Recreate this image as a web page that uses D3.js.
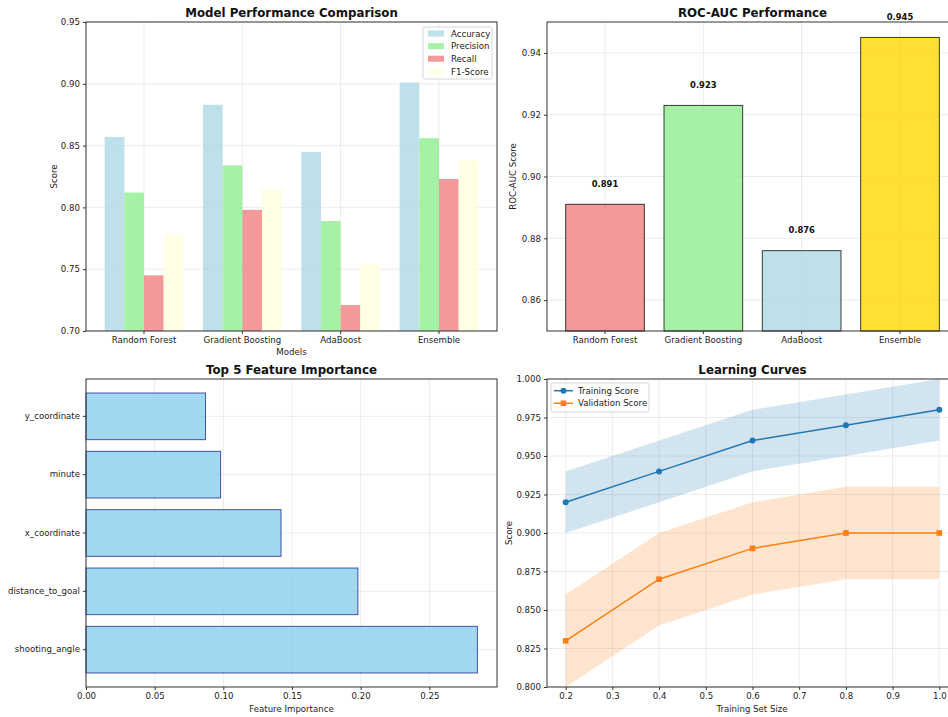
<!DOCTYPE html>
<html>
<head>
<meta charset="utf-8">
<script src="https://cdn.jsdelivr.net/npm/d3@7"></script>
<style>
  body { margin: 0; background: #fff; }
  svg { display: block; font-family: "DejaVu Sans", sans-serif; }
  svg text { font-family: "DejaVu Sans", sans-serif; }
  .tick text { font-size: 8.6px; fill: #222; font-family: "DejaVu Sans", sans-serif; }
  .tick line { stroke: #333; }
  .domain { display: none; }
</style>
</head>
<body>
<svg id="fig" width="948" height="717"></svg>
<script>
// ---- data ----
const models = ["Random Forest", "Gradient Boosting", "AdaBoost", "Ensemble"];
const metrics = ["Accuracy", "Precision", "Recall", "F1-Score"];
const accuracy = [0.857, 0.883, 0.845, 0.901];
const precision = [0.812, 0.834, 0.789, 0.856];
const recall = [0.745, 0.798, 0.721, 0.823];
const f1Score = [0.778, 0.815, 0.754, 0.838];
const metricColors = ["lightblue", "lightgreen", "lightcoral", "lightyellow"];

const rocAuc = [0.891, 0.923, 0.876, 0.945];
const rocColors = ["lightcoral", "lightgreen", "lightblue", "gold"];

const features = ["shooting_angle", "distance_to_goal", "x_coordinate", "minute", "y_coordinate"];
const importance = [0.285, 0.198, 0.142, 0.098, 0.087];

const trainSizes = [0.2, 0.4, 0.6, 0.8, 1.0];
const trainMean = [0.92, 0.94, 0.96, 0.97, 0.98];
const trainStd = [0.02, 0.02, 0.02, 0.02, 0.02];
const valMean = [0.83, 0.87, 0.89, 0.90, 0.90];
const valStd = [0.03, 0.03, 0.03, 0.03, 0.03];

const scoreTicks = [0.70, 0.75, 0.80, 0.85, 0.90, 0.95];
const rocTicks = [0.86, 0.88, 0.90, 0.92, 0.94];
const impTicks = [0.00, 0.05, 0.10, 0.15, 0.20, 0.25];
const sizeTicks = [0.2, 0.3, 0.4, 0.5, 0.6, 0.7, 0.8, 0.9, 1.0];
const lcTicks = [0.800, 0.825, 0.850, 0.875, 0.900, 0.925, 0.950, 0.975, 1.000];

const svg = d3.select("#fig");
const LABEL_SIZE = "8.6px";

// panel boxes
const P = {
  tl: {l: 86, r: 497, t: 22, b: 331},
  tr: {l: 547, r: 958, t: 22, b: 331},
  bl: {l: 86, r: 497, t: 379, b: 687},
  br: {l: 547, r: 958, t: 379, b: 687}
};

function gridX(g, scale, vals, p) {
  g.append("g").selectAll("line").data(vals).join("line")
    .attr("x1", d => scale(d)).attr("x2", d => scale(d))
    .attr("y1", p.t).attr("y2", p.b)
    .attr("stroke", "#b0b0b0").attr("stroke-opacity", 0.3).attr("stroke-width", 0.8);
}
function gridY(g, scale, vals, p) {
  g.append("g").selectAll("line").data(vals).join("line")
    .attr("y1", d => scale(d)).attr("y2", d => scale(d))
    .attr("x1", p.l).attr("x2", p.r)
    .attr("stroke", "#b0b0b0").attr("stroke-opacity", 0.3).attr("stroke-width", 0.8);
}
function frame(g, p) {
  g.append("rect").attr("x", p.l).attr("y", p.t)
    .attr("width", p.r - p.l).attr("height", p.b - p.t)
    .attr("fill", "none").attr("stroke", "#333").attr("stroke-width", 1);
}
function title(g, p, text, y) {
  g.append("text").attr("x", (p.l + p.r) / 2).attr("y", y)
    .attr("text-anchor", "middle").attr("font-size", "11.8px").attr("font-weight", "bold")
    .attr("fill", "#111").text(text);
}
function xLabel(g, x, y, text) {
  g.append("text").attr("x", x).attr("y", y).attr("text-anchor", "middle")
    .attr("font-size", LABEL_SIZE).attr("fill", "#222").text(text);
}
function yLabel(g, x, y, text) {
  g.append("text").attr("transform", `translate(${x},${y}) rotate(-90)`)
    .attr("text-anchor", "middle").attr("font-size", LABEL_SIZE).attr("fill", "#222").text(text);
}
function styleAxis(a) {
  a.attr("font-family", null).attr("font-size", null);
  a.selectAll(".tick line").attr("stroke", "#333");
}

// ---------- Top-left: grouped bars ----------
{
  const p = P.tl;
  const g = svg.append("g");
  const x = d3.scaleBand().domain(models).range([p.l, p.r]).paddingInner(0.2).paddingOuter(0.19);
  const sub = d3.scaleBand().domain(metrics).range([0, x.bandwidth()]);
  const y = d3.scaleLinear().domain([0.70, 0.95]).range([p.b, p.t]);
  const series = [accuracy, precision, recall, f1Score];

  gridX(g, m => x(m) + x.bandwidth() / 2, models, p);
  gridY(g, y, scoreTicks, p);

  const bars = g.append("g");
  metrics.forEach((met, k) => {
    bars.append("g").selectAll("rect").data(models).join("rect")
      .attr("x", m => x(m) + sub(met))
      .attr("width", sub.bandwidth())
      .attr("y", (m, i) => y(series[k][i]))
      .attr("height", (m, i) => y(0.70) - y(series[k][i]))
      .attr("fill", metricColors[k]).attr("fill-opacity", 0.8);
  });

  frame(g, p);
  g.append("g").attr("transform", `translate(0,${p.b})`)
    .call(d3.axisBottom(x).tickSize(3).tickPadding(3)).call(styleAxis);
  g.append("g").attr("transform", `translate(${p.l},0)`)
    .call(d3.axisLeft(y).tickValues(scoreTicks).tickFormat(d3.format(".2f")).tickSize(3).tickPadding(3)).call(styleAxis);

  title(g, p, "Model Performance Comparison", 17);
  xLabel(g, (p.l + p.r) / 2, 355, "Models");
  yLabel(g, 57, (p.t + p.b) / 2, "Score");

  // legend
  const lg = g.append("g").attr("transform", "translate(423,27)");
  lg.append("rect").attr("width", 69).attr("height", 52).attr("rx", 2)
    .attr("fill", "#fff").attr("fill-opacity", 0.8).attr("stroke", "#ccc").attr("stroke-width", 0.8);
  metrics.forEach((met, k) => {
    lg.append("rect").attr("x", 5).attr("y", 3.5 + k * 12.6).attr("width", 16).attr("height", 6)
      .attr("fill", metricColors[k]).attr("fill-opacity", 0.8);
    lg.append("text").attr("x", 28).attr("y", 9.8 + k * 12.6).attr("font-size", LABEL_SIZE).attr("fill", "#222").text(met);
  });
}

// ---------- Top-right: ROC-AUC bars ----------
{
  const p = P.tr;
  const g = svg.append("g");
  const x = d3.scaleBand().domain(models).range([p.l, p.r]).paddingInner(0.2).paddingOuter(0.19);
  const y = d3.scaleLinear().domain([0.85, 0.95]).range([p.b, p.t]);

  gridX(g, m => x(m) + x.bandwidth() / 2, models, p);
  gridY(g, y, rocTicks, p);

  g.append("g").selectAll("rect").data(models).join("rect")
    .attr("x", m => x(m)).attr("width", x.bandwidth())
    .attr("y", (m, i) => y(rocAuc[i]))
    .attr("height", (m, i) => p.b - y(rocAuc[i]))
    .attr("fill", (m, i) => rocColors[i]).attr("fill-opacity", 0.8)
    .attr("stroke", "#000").attr("stroke-opacity", 0.75).attr("stroke-width", 1);

  g.append("g").selectAll("text").data(models).join("text")
    .attr("x", m => x(m) + x.bandwidth() / 2)
    .attr("y", (m, i) => y(rocAuc[i] + 0.005) - 2)
    .attr("text-anchor", "middle").attr("font-size", "8.4px").attr("font-weight", "bold").attr("fill", "#111")
    .text((m, i) => d3.format(".3f")(rocAuc[i]));

  frame(g, p);
  g.append("g").attr("transform", `translate(0,${p.b})`)
    .call(d3.axisBottom(x).tickSize(3).tickPadding(3)).call(styleAxis);
  g.append("g").attr("transform", `translate(${p.l},0)`)
    .call(d3.axisLeft(y).tickValues(rocTicks).tickFormat(d3.format(".2f")).tickSize(3).tickPadding(3)).call(styleAxis);

  title(g, p, "ROC-AUC Performance", 17);
  yLabel(g, 516, (p.t + p.b) / 2, "ROC-AUC Score");
}

// ---------- Bottom-left: feature importance ----------
{
  const p = P.bl;
  const g = svg.append("g");
  const yb = d3.scaleBand().domain(features.slice().reverse()).range([p.t, p.b]).paddingInner(0.2).paddingOuter(0.24);
  const x = d3.scaleLinear().domain([0, 0.29925]).range([p.l, p.r]);

  gridX(g, x, impTicks, p);
  gridY(g, f => yb(f) + yb.bandwidth() / 2, features, p);

  g.append("g").selectAll("rect").data(features).join("rect")
    .attr("x", x(0)).attr("y", f => yb(f))
    .attr("width", (f, i) => x(importance[i]) - x(0))
    .attr("height", yb.bandwidth())
    .attr("fill", "skyblue").attr("fill-opacity", 0.8)
    .attr("stroke", "navy").attr("stroke-opacity", 0.65).attr("stroke-width", 1);

  frame(g, p);
  g.append("g").attr("transform", `translate(0,${p.b})`)
    .call(d3.axisBottom(x).tickValues(impTicks).tickFormat(d3.format(".2f")).tickSize(3).tickPadding(3)).call(styleAxis);
  g.append("g").attr("transform", `translate(${p.l},0)`)
    .call(d3.axisLeft(yb).tickSize(3).tickPadding(3)).call(styleAxis);

  title(g, p, "Top 5 Feature Importance", 374);
  xLabel(g, (p.l + p.r) / 2, 712, "Feature Importance");
}

// ---------- Bottom-right: learning curves ----------
{
  const p = P.br;
  const g = svg.append("g");
  const x = d3.scaleLinear().domain([0.16, 1.04]).range([p.l, p.r]);
  const y = d3.scaleLinear().domain([0.80, 1.00]).range([p.b, p.t]);

  gridX(g, x, sizeTicks, p);
  gridY(g, y, lcTicks, p);

  const idx = d3.range(trainSizes.length);
  const band = (mean, sd) => d3.area()
    .x(i => x(trainSizes[i])).y0(i => y(mean[i] - sd[i])).y1(i => y(mean[i] + sd[i]));
  const line = mean => d3.line().x(i => x(trainSizes[i])).y(i => y(mean[i]));

  g.append("path").attr("d", band(trainMean, trainStd)(idx)).attr("fill", "#1f77b4").attr("fill-opacity", 0.2);
  g.append("path").attr("d", band(valMean, valStd)(idx)).attr("fill", "#ff7f0e").attr("fill-opacity", 0.2);

  g.append("path").attr("d", line(trainMean)(idx)).attr("fill", "none").attr("stroke", "#1f77b4").attr("stroke-width", 1.5);
  g.append("path").attr("d", line(valMean)(idx)).attr("fill", "none").attr("stroke", "#ff7f0e").attr("stroke-width", 1.5);

  g.append("g").selectAll("circle").data(idx).join("circle")
    .attr("cx", i => x(trainSizes[i])).attr("cy", i => y(trainMean[i])).attr("r", 3).attr("fill", "#1f77b4");
  g.append("g").selectAll("rect").data(idx).join("rect")
    .attr("x", i => x(trainSizes[i]) - 2.8).attr("y", i => y(valMean[i]) - 2.8)
    .attr("width", 5.6).attr("height", 5.6).attr("fill", "#ff7f0e");

  frame(g, p);
  g.append("g").attr("transform", `translate(0,${p.b})`)
    .call(d3.axisBottom(x).tickValues(sizeTicks).tickFormat(d3.format(".1f")).tickSize(3).tickPadding(3)).call(styleAxis);
  g.append("g").attr("transform", `translate(${p.l},0)`)
    .call(d3.axisLeft(y).tickValues(lcTicks).tickFormat(d3.format(".3f")).tickSize(3).tickPadding(3)).call(styleAxis);

  title(g, p, "Learning Curves", 374);
  xLabel(g, 752, 712, "Training Set Size");
  yLabel(g, 512, (p.t + p.b) / 2, "Score");

  // legend
  const lg = g.append("g").attr("transform", "translate(551,383)");
  lg.append("rect").attr("width", 98).attr("height", 29).attr("rx", 2)
    .attr("fill", "#fff").attr("fill-opacity", 0.8).attr("stroke", "#ccc").attr("stroke-width", 0.8);
  const items = [{name: "Training Score", c: "#1f77b4", m: "circle"}, {name: "Validation Score", c: "#ff7f0e", m: "square"}];
  items.forEach((it, k) => {
    const cy = 7.7 + k * 12.6;
    lg.append("line").attr("x1", 3).attr("x2", 22).attr("y1", cy).attr("y2", cy).attr("stroke", it.c).attr("stroke-width", 1.5);
    if (it.m === "circle") lg.append("circle").attr("cx", 12.5).attr("cy", cy).attr("r", 3).attr("fill", it.c);
    else lg.append("rect").attr("x", 9.7).attr("y", cy - 2.8).attr("width", 5.6).attr("height", 5.6).attr("fill", it.c);
    lg.append("text").attr("x", 27).attr("y", cy + 3).attr("font-size", LABEL_SIZE).attr("fill", "#222").text(it.name);
  });
}
</script>
</body>
</html>
